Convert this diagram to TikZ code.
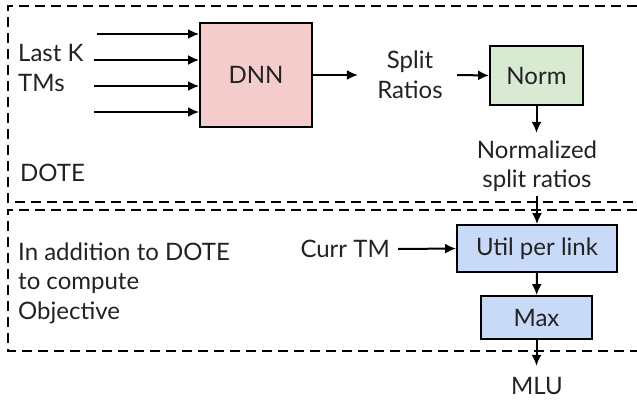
\documentclass[tikz,border=0pt]{standalone}
\usepackage{fontspec}
\setmainfont{Lato}
\usepackage{tikz}
\usetikzlibrary{arrows.meta,positioning,calc}
\usepackage{xcolor}
\definecolor{DnnPink}{HTML}{F4CCCC}
\definecolor{NormGreen}{HTML}{D9EAD3}
\definecolor{UtilBlue}{HTML}{C9DAF8}
\definecolor{TextGray}{HTML}{222222}

\begin{document}
\begin{tikzpicture}[
    x=1pt, y=-1pt,
    every node/.style={text=TextGray, font=\fontsize{24}{29.5}\selectfont},
    block/.style={draw=black, line width=1.8pt, inner sep=0pt},
    lbl/.style={align=center, inner sep=2pt},
    arr/.style={-{Latex[length=11pt,width=10pt]}, line width=2pt},
    frame/.style={dashed, dash pattern=on 10pt off 6pt, line width=2pt}
  ]
    \useasboundingbox (0,0) rectangle (637,402);

    % dashed frames, open on the right
    \draw[frame] (637,6) -- (8,6) -- (8,202) -- (637,202);
    \draw[frame] (637,210) -- (8,210) -- (8,351) -- (637,351);

    % DOTE part
    \node[block, fill=DnnPink, minimum width=112pt, minimum height=104pt] (dnn) at (256,75) {DNN};
    \node[lbl, anchor=west, align=left] (lastk) at (16,68) {Last K\\TMs};
    \coordinate (in1) at (97,34);
    \coordinate (in2) at (94,60);
    \coordinate (in3) at (94,86);
    \coordinate (in4) at (94,112);
    \foreach \i in {1,...,4}
      \draw[arr] (in\i) -- (in\i -| dnn.west);
    \node[lbl, anchor=west] (dote) at (18,173) {DOTE};

    \node[lbl] (split) at (410,75) {Split\\Ratios};
    \node[block, fill=NormGreen, minimum width=93pt, minimum height=59pt] (norm) at (536.5,75.5) {Norm};
    \draw[arr] (dnn.east) -- ++(45,0);
    \draw[arr] (457,75) -- (norm.west);
    \node[lbl] (normsplit) at (537,166) {Normalized\\split ratios};
    \draw[arr] (norm.south) -- ++(0,27);

    % objective part
    \node[lbl, anchor=west, align=left] (extra) at (16,283) {In addition to DOTE\\to compute\\Objective};
    \node[block, fill=UtilBlue, minimum width=160pt, minimum height=47pt] (util) at (537,248.5) {Util per link};
    \node[block, fill=UtilBlue, minimum width=111pt, minimum height=43pt] (maxbox) at (536.5,317.5) {Max};
    \node[lbl, anchor=east] (currtm) at (392,249) {Curr TM};
    \node[lbl] (mlu) at (537,386) {MLU};

    \draw[arr] (currtm.east) ++(6,0) -- (util.west);
    \draw[arr] (normsplit.south) ++(0,2) -- (util.north);
    \draw[arr] (util) -- (maxbox);
    \draw[arr] (maxbox.south) -- ++(0,26);
  \end{tikzpicture}
\end{document}
